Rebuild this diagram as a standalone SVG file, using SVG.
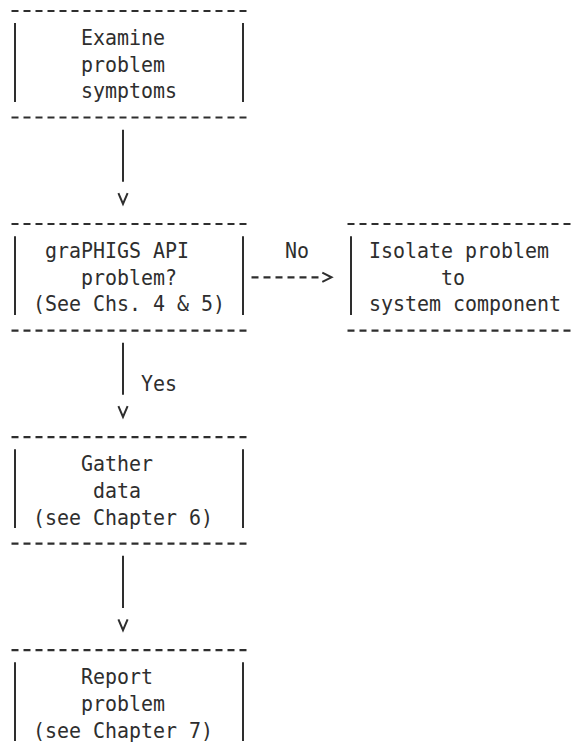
<svg xmlns="http://www.w3.org/2000/svg" width="574" height="755" viewBox="0 0 574 755">
<style>
  .t { font-family: "DejaVu Sans Mono", "Liberation Mono", monospace; font-size: 21px; fill: #2e2e2e; }
  .h { stroke: #2e2e2e; stroke-width: 2.2; stroke-dasharray: 7 5; fill: none; }
  .v { stroke: #2e2e2e; stroke-width: 2; fill: none; }
  .c { stroke: #2e2e2e; stroke-width: 2; fill: none; }
  .hd { stroke: #2e2e2e; stroke-width: 2; fill: none; stroke-dasharray: none; }
</style>
<defs>
  <marker id="vhead" markerUnits="userSpaceOnUse" orient="auto" refX="0" refY="0" markerWidth="30" markerHeight="12" overflow="visible">
    <path class="hd" d="M11.4,-4.6 L22.2,0 L11.4,4.6"/>
  </marker>
  <marker id="rhead" markerUnits="userSpaceOnUse" orient="auto" refX="0" refY="0" markerWidth="16" markerHeight="12" overflow="visible">
    <path class="hd" d="M3.8,-4.6 L13,0 L3.8,4.6"/>
  </marker>
</defs>
<rect width="574" height="755" fill="#ffffff"/>

<g id="node-examine">
  <path class="h" d="M11.5,11 H246.5"/>
  <path class="v" d="M15,23.1 V101.9 M243,23.1 V101.9"/>
  <path class="h" d="M11.5,117.5 H246.5"/>
  <text class="t" x="81" y="45.1" textLength="84" lengthAdjust="spacingAndGlyphs">Examine</text>
  <text class="t" x="81" y="71.8" textLength="84" lengthAdjust="spacingAndGlyphs">problem</text>
  <text class="t" x="81" y="98.4" textLength="96" lengthAdjust="spacingAndGlyphs">symptoms</text>
</g>

<g id="node-graphigs">
  <path class="h" d="M11.5,224 H246.5"/>
  <path class="v" d="M15,236.2 V314.9 M243,236.2 V314.9"/>
  <path class="h" d="M11.5,330.6 H246.5"/>
  <text class="t" x="45" y="258.2" textLength="144" lengthAdjust="spacingAndGlyphs">graPHIGS API</text>
  <text class="t" x="81" y="284.8" textLength="96" lengthAdjust="spacingAndGlyphs">problem?</text>
  <text class="t" x="33" y="311.4" textLength="192" lengthAdjust="spacingAndGlyphs">(See Chs. 4 &amp; 5)</text>
</g>

<g id="node-isolate">
  <path class="h" d="M347.5,224 H570.5"/>
  <path class="v" d="M351,236.2 V314.9"/>
  <path class="h" d="M347.5,330.6 H570.5"/>
  <text class="t" x="369" y="258.2" textLength="180" lengthAdjust="spacingAndGlyphs">Isolate problem</text>
  <text class="t" x="441" y="284.8" textLength="24" lengthAdjust="spacingAndGlyphs">to</text>
  <text class="t" x="369" y="311.4" textLength="192" lengthAdjust="spacingAndGlyphs">system component</text>
</g>

<g id="node-gather">
  <path class="h" d="M11.5,437.1 H246.5"/>
  <path class="v" d="M15,449.2 V528 M243,449.2 V528"/>
  <path class="h" d="M11.5,543.6 H246.5"/>
  <text class="t" x="81" y="471.2" textLength="72" lengthAdjust="spacingAndGlyphs">Gather</text>
  <text class="t" x="93" y="497.8" textLength="48" lengthAdjust="spacingAndGlyphs">data</text>
  <text class="t" x="33" y="524.5" textLength="180" lengthAdjust="spacingAndGlyphs">(see Chapter 6)</text>
</g>

<g id="node-report">
  <path class="h" d="M11.5,650.1 H246.5"/>
  <path class="v" d="M15,662.3 V741 M243,662.3 V741"/>
  <text class="t" x="81" y="684.3" textLength="72" lengthAdjust="spacingAndGlyphs">Report</text>
  <text class="t" x="81" y="710.9" textLength="84" lengthAdjust="spacingAndGlyphs">problem</text>
  <text class="t" x="33" y="737.5" textLength="180" lengthAdjust="spacingAndGlyphs">(see Chapter 7)</text>
</g>

<g id="connectors">
  <path class="c" d="M123,129.7 V181.8" marker-end="url(#vhead)"/>
  <path class="h" d="M251.5,277.3 H318.5" marker-end="url(#rhead)"/>
  <text class="t" x="285" y="258.2" textLength="24" lengthAdjust="spacingAndGlyphs">No</text>
  <path class="c" d="M123,342.7 V394.8" marker-end="url(#vhead)"/>
  <text class="t" x="141" y="391.3" textLength="36" lengthAdjust="spacingAndGlyphs">Yes</text>
  <path class="c" d="M123,555.7 V607.9" marker-end="url(#vhead)"/>
</g>
</svg>
